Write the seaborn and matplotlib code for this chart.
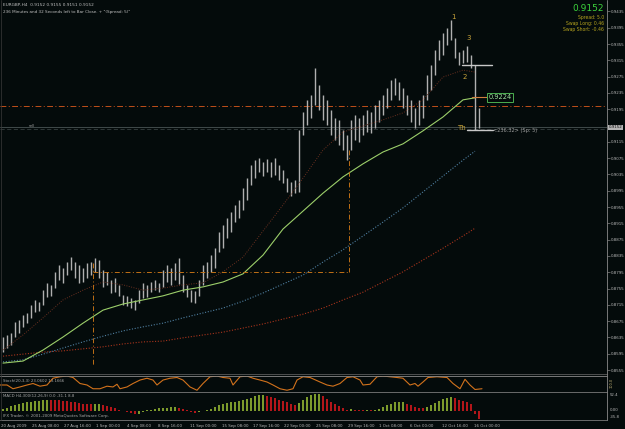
import numpy as np
import pandas as pd
import matplotlib
matplotlib.use("Agg")
import matplotlib.pyplot as plt
import seaborn as sns
from matplotlib.lines import Line2D

# ---- price bars (EURGBP H4), one entry per drawn bar ----
highs = [
    0.8636, 0.8641, 0.8646, 0.8673, 0.8678, 0.8690, 0.8695, 0.8715, 0.8727, 0.8722,
    0.8751, 0.8769, 0.8764, 0.8796, 0.8813, 0.8805, 0.8820, 0.8832, 0.8820, 0.8813,
    0.8805, 0.8818, 0.8820, 0.8830, 0.8825, 0.8800, 0.8796, 0.8776, 0.8781, 0.8764,
    0.8739, 0.8737, 0.8732, 0.8727, 0.8751, 0.8769, 0.8764, 0.8771, 0.8776, 0.8769,
    0.8800, 0.8813, 0.8805, 0.8818, 0.8830, 0.8788, 0.8764, 0.8751, 0.8749, 0.8776,
    0.8813, 0.8820, 0.8837, 0.8854, 0.8894, 0.8911, 0.8928, 0.8943, 0.8960, 0.8972,
    0.9002, 0.9026, 0.9058, 0.9070, 0.9075, 0.9065, 0.9073, 0.9065, 0.9075, 0.9058,
    0.9046, 0.9026, 0.9016, 0.9021, 0.9144, 0.9188, 0.9218, 0.9230, 0.9296, 0.9254,
    0.9230, 0.9218, 0.9193, 0.9173, 0.9169, 0.9144, 0.9132, 0.9169, 0.9181, 0.9173,
    0.9181, 0.9193, 0.9188, 0.9205, 0.9218, 0.9230, 0.9247, 0.9267, 0.9272, 0.9262,
    0.9247, 0.9230, 0.9218, 0.9198, 0.9218, 0.9230, 0.9279, 0.9303, 0.9340, 0.9365,
    0.9382, 0.9394, 0.9414, 0.9370, 0.9335, 0.9340, 0.9350, 0.9328, 0.9303, 0.9198,
]
lows = [
    0.8599, 0.8609, 0.8616, 0.8636, 0.8646, 0.8661, 0.8670, 0.8683, 0.8697, 0.8700,
    0.8715, 0.8734, 0.8737, 0.8756, 0.8776, 0.8769, 0.8788, 0.8800, 0.8781, 0.8769,
    0.8771, 0.8781, 0.8788, 0.8796, 0.8781, 0.8759, 0.8764, 0.8744, 0.8746, 0.8737,
    0.8715, 0.8712, 0.8707, 0.8702, 0.8719, 0.8732, 0.8734, 0.8746, 0.8751, 0.8746,
    0.8759, 0.8771, 0.8764, 0.8776, 0.8766, 0.8746, 0.8734, 0.8722, 0.8719, 0.8737,
    0.8764, 0.8781, 0.8796, 0.8805, 0.8845, 0.8854, 0.8879, 0.8894, 0.8918, 0.8928,
    0.8948, 0.8972, 0.9009, 0.9026, 0.9041, 0.9031, 0.9041, 0.9029, 0.9034, 0.9021,
    0.9014, 0.8992, 0.8982, 0.8989, 0.8992, 0.9132, 0.9156, 0.9173, 0.9205, 0.9193,
    0.9169, 0.9156, 0.9132, 0.9119, 0.9107, 0.9095, 0.9070, 0.9095, 0.9119, 0.9115,
    0.9132, 0.9139, 0.9137, 0.9149, 0.9164, 0.9181, 0.9198, 0.9218, 0.9230, 0.9218,
    0.9198, 0.9181, 0.9164, 0.9149, 0.9156, 0.9173, 0.9218, 0.9242, 0.9279, 0.9316,
    0.9328, 0.9353, 0.9365, 0.9321, 0.9303, 0.9308, 0.9311, 0.9296, 0.9144, 0.9149,
]

# ---- moving averages, read at every fifth bar ----
ma_bars = [0, 5, 10, 15, 20, 25, 30, 35, 40, 45, 50, 55, 60, 65, 70, 75, 80, 85,
           90, 95, 100, 105, 110, 115, 118]
ma_green = [0.8572, 0.8577, 0.8604, 0.8636, 0.8670, 0.8702, 0.8717, 0.8727, 0.8737,
            0.8751, 0.8759, 0.8771, 0.8791, 0.8837, 0.8901, 0.8945, 0.8989, 0.9029,
            0.9061, 0.9090, 0.9110, 0.9142, 0.9176, 0.9218, 0.9223]
ma_blue = [0.8575, 0.8580, 0.8594, 0.8609, 0.8624, 0.8638, 0.8651, 0.8661, 0.8670,
           0.8683, 0.8695, 0.8707, 0.8724, 0.8744, 0.8766, 0.8788, 0.8820, 0.8850,
           0.8884, 0.8918, 0.8953, 0.8992, 0.9031, 0.9070, 0.9092]
ma_red = [0.8589, 0.8594, 0.8599, 0.8602, 0.8607, 0.8612, 0.8619, 0.8624, 0.8626,
          0.8634, 0.8641, 0.8648, 0.8658, 0.8668, 0.8680, 0.8692, 0.8707, 0.8727,
          0.8746, 0.8771, 0.8796, 0.8825, 0.8854, 0.8884, 0.8903]
ma_fast = [0.8604, 0.8641, 0.8683, 0.8727, 0.8751, 0.8771, 0.8764, 0.8751, 0.8756,
           0.8764, 0.8769, 0.8796, 0.8832, 0.8896, 0.8960, 0.9026, 0.9095, 0.9139,
           0.9154, 0.9169, 0.9186, 0.9218, 0.9274, 0.9291, 0.9286]

# ---- oscillator pane ----
osc_bar = [-0.75, 1, 2.5, 4.25, 6, 7.5, 9.25, 11, 12.5, 14.25, 16, 17.5, 19.25, 21,
           22.5, 24.25, 26, 27.5, 28.5, 29.25, 31, 32.5, 34.25, 36, 37.5, 38.5, 40,
           41.75, 43.5, 45, 46.75, 48.5, 50, 51.75, 53.5, 55, 56.75, 57.5, 59.25, 61,
           62.5, 64.25, 66, 67.5, 69.25, 71, 72.5, 73.5, 75, 76.75, 79.25, 81, 82.5,
           84.25, 86, 87.5, 89.25, 90, 91.75, 93.5, 95, 96.75, 98.5, 100, 101.75,
           103, 103.75, 105, 106.25, 108.5, 111, 112.5, 114.25, 115.5, 116.75, 118,
           119.75]
osc_val = [40, 40, 15, 27, 40, 50, 32, 40, 85, 95, 100, 90, 50, 40, 15, 15, 32, 27,
           45, 15, 27, 50, 73, 85, 73, 40, 73, 85, 90, 73, 27, 5, 50, 95, 100, 90,
           85, 40, 95, 100, 85, 73, 60, 40, 15, 5, 15, 73, 95, 90, 60, 40, 32, 50,
           90, 95, 73, 40, 45, 95, 100, 95, 90, 85, 40, 50, 32, 60, 90, 95, 90, 50,
           15, 78, 40, 10, 15]

# ---- MACD histogram, one value per bar ----
macd_hist = [
    7, 10, 17, 21, 24, 28, 31, 32, 35, 36,
    38, 39, 38.5, 38, 37, 35, 34, 31, 30, 28,
    25, 24, 23, 23.5, 24.5, 21, 17.5, 14, 10.5, 5,
    0, -3.5, -7, -10, -9, -4, 2, 5, 7, 9,
    10.5, 12, 14, 14.5, 12, 7, 2, -3.5, -7, -5,
    0, 3.5, 7, 14, 21, 24.5, 28, 30, 31.5, 35,
    38.5, 42, 45.5, 52, 56, 57.5, 54, 49, 44, 38.5,
    35, 30, 24.5, 21, 28, 38.5, 49, 56, 59.5, 60,
    52.5, 42, 31.5, 23, 16, 9, 5, 7, 3.5, 2,
    1.8, 3.5, 2, 3.5, 7, 14, 21, 26, 30, 31.5,
    32, 26, 21, 14, 10.5, 9, 14, 21, 28, 35,
    42, 45.5, 49, 45.5, 40, 35, 30, 24.5, -10, -28,
]

time_labels = ["20 Aug 2009", "25 Aug 08:00", "27 Aug 16:00", "1 Sep 00:00",
               "4 Sep 08:00", "8 Sep 16:00", "11 Sep 00:00", "15 Sep 08:00",
               "17 Sep 16:00", "22 Sep 00:00", "25 Sep 08:00", "29 Sep 16:00",
               "1 Oct 08:00", "6 Oct 00:00", "12 Oct 16:00", "16 Oct 00:00"]

last_price = 0.9152
ma_label_price = 0.9224
level_price = 0.9203

W, H = 625, 429
BG = "#040b0b"

sns.set_theme(style="dark", rc={"axes.facecolor": BG, "figure.facecolor": BG,
                                "axes.grid": False})
plt.rcParams["font.family"] = ["DejaVu Sans"]

fig = plt.figure(figsize=(W / 100, H / 100), dpi=100)


def box(x0, y0, x1, y1):
    return [x0 / W, 1 - y1 / H, (x1 - x0) / W, (y1 - y0) / H]


def ftext(x, y, s, **kw):
    kw.setdefault("va", "center")
    fig.text(x / W, 1 - y / H, s, **kw)


def fline(xs, ys, **kw):
    fig.add_artist(Line2D([x / W for x in xs], [1 - y / H for y in ys],
                          transform=fig.transFigure, **kw))


bars = np.arange(len(highs))
xlim = (-0.75, 151)

# ---------------- main price pane ----------------
ax = fig.add_axes(box(0, 0, 607, 373))
ax.axhline(level_price, color="#c0501a", lw=0.7, ls=(0, (6, 2.5, 1, 2.5)))
ax.axhline(last_price, color="#4a5454", lw=0.6)
ax.axhline(0.9146, color="#353e3e", lw=0.6, ls=(0, (5, 3)))

ax.vlines(bars, lows, highs, color="#b0b0b0", lw=1.0)

sns.lineplot(x=ma_bars, y=ma_red, ax=ax, color="#a8341c", lw=0.8, ls=(0, (1, 1.5)))
sns.lineplot(x=ma_bars, y=ma_blue, ax=ax, color="#4f7fa0", lw=0.8, ls=(0, (1, 1.5)))
sns.lineplot(x=ma_bars, y=ma_fast, ax=ax, color="#6a3020", lw=0.7, ls=(0, (1, 1.5)))
sns.lineplot(x=ma_bars, y=ma_green, ax=ax, color="#9ccf6a", lw=0.8)

# channel / time projection lines
ax.plot([22.5, 86.5], [0.8796, 0.8796], color="#c07016", lw=0.7, ls=(0, (5, 2.5, 1, 2.5)))
ax.plot([22.5, 22.5], [0.8818, 0.8568], color="#c07016", lw=0.7, ls=(0, (5, 2.5, 1, 2.5)))
ax.plot([86.5, 86.5], [0.9095, 0.8796], color="#c07016", lw=0.7, ls=(0, (5, 2.5, 1, 2.5)))

# wave markers
ax.plot([114.75, 122.25], [0.9303, 0.9303], color="#c8c8c8", lw=1.0)
ax.plot([116, 122.5], [0.9144, 0.9144], color="#c8c8c8", lw=1.0)
ax.plot([117.25, 121], [ma_label_price, ma_label_price], color="#d08040", lw=0.8)
for lbl, bx, py in [("1", 112, 0.9422), ("3", 115.8, 0.9370), ("2", 114.8, 0.9275),
                    ("Th", 113.5, 0.9148)]:
    ax.text(bx, py, lbl, color="#c9a43a", fontsize=5, ha="left", va="center")
ax.text(121.4, ma_label_price, f"{ma_label_price:.4f}", color="#9fe09f", fontsize=4.8,
        ha="left", va="center",
        bbox=dict(boxstyle="square,pad=0.2", fc=BG, ec="#4caf50", lw=0.7))
ax.text(122.5, 0.9142, "<236.32> (Sp: 5)", color="#a0a0a0", fontsize=3.6,
        ha="left", va="center")
ax.text(6.5, 0.9155, "sell", color="#a0a0a0", fontsize=2.6, ha="left", va="center")

price_ticks = [round(0.8555 + 0.004 * k, 4) for k in range(23) if k != 15]
ax.set_xlim(*xlim)
ax.set_ylim(0.85477, 0.94630)
ax.yaxis.tick_right()
ax.set_yticks(price_ticks)
ax.set_yticklabels([f"{t:.4f}" for t in price_ticks])
ax.tick_params(axis="y", colors="#808080", labelcolor="#b8b8b8", labelsize=2.9,
               length=2, width=0.5, pad=1)
ax.set_xticks([])
ax.set_xlabel("")
ax.set_ylabel("")
for s in ax.spines.values():
    s.set_visible(False)

# ---------------- oscillator pane ----------------
osc = fig.add_axes(box(0, 375.5, 607, 392))
sns.lineplot(x=osc_bar, y=osc_val, ax=osc, color="#d2721c", lw=0.8)
osc.set_xlim(*xlim)
osc.set_ylim(-6.7, 103.3)
osc.set_xticks([])
osc.set_yticks([])
osc.set_xlabel("")
osc.set_ylabel("")
for s in osc.spines.values():
    s.set_visible(False)

# ---------------- MACD pane ----------------
macd = fig.add_axes(box(0, 392, 607, 420))
hist = pd.DataFrame({"bar": bars, "macd": macd_hist})
hist["rising"] = hist["macd"].diff().fillna(1) >= 0
colors = np.where(hist["rising"], "#7c9a2c", "#b3161a")
macd.bar(hist["bar"], hist["macd"], width=0.72, color=colors, lw=0)
macd.set_xlim(*xlim)
macd.set_ylim(-31.5, 66.5)
macd.set_yticks([])
label_pos = np.arange(len(time_labels)) * 7.875 - 0.5
macd.set_xticks(label_pos)
macd.set_xticklabels(time_labels, ha="left")
macd.tick_params(axis="x", colors="#808080", labelcolor="#b8b8b8", labelsize=2.9,
                 length=2, width=0.5, pad=0.6)
macd.set_xlabel("")
macd.set_ylabel("")
for s in macd.spines.values():
    s.set_visible(False)

# ---------------- frame lines ----------------
fline([0, 607], [373.5, 373.5], color="#5a5a5a", lw=0.6)
fline([0, 607], [375.5, 375.5], color="#8a8a8a", lw=0.6)
fline([0, 607], [392, 392], color="#7a7a7a", lw=0.6)
fline([0, 607], [420, 420], color="#7a7a7a", lw=0.6)
fline([607, 607], [0, 420], color="#8a8a8a", lw=0.6)
fline([1, 1], [0, 420], color="#3a3a3a", lw=0.5)

# ---------------- texts ----------------
ftext(3, 5, "EURGBP,H4  0.9152 0.9155 0.9151 0.9152", fontsize=3.1, color="#c0c0c0")
ftext(3, 12, '236 Minutes and 32 Seconds left to Bar Close. + "(Spread: 5)"',
      fontsize=3.0, color="#c0c0c0")
ftext(604, 8.5, f"{last_price:.4f}", fontsize=6.5, color="#3cd23c", ha="right")
ftext(604, 17, "Spread: 5.0", fontsize=3.3, color="#b4a21e", ha="right")
ftext(604, 23.5, "Swap Long: 0.46", fontsize=3.3, color="#b4a21e", ha="right")
ftext(604, 29.5, "Swap Short: -0.46", fontsize=3.3, color="#b4a21e", ha="right")
ftext(609, 127.5, f"{last_price:.4f}", fontsize=2.9, color="#101010",
      bbox=dict(boxstyle="square,pad=0.15", fc="#b4b4b4", ec="none"))

ftext(3, 381, "Stoch(20,3,3) 23.0602 13.1666", fontsize=2.8, color="#a8a8a8")
ftext(3, 396, "MACD H4-300(12,26,9) 0.0 -31.1 8.8", fontsize=2.8, color="#a8a8a8")
ftext(3, 416.5, "IFX Trader, \u00a9 2001-2009 MetaQuotes Software Corp.", fontsize=2.9,
      color="#a8a8a8")
ftext(612, 383, "100.0", fontsize=2.5, color="#c8b878", rotation=90, ha="center")
ftext(610, 395, "52.4", fontsize=2.8, color="#b8b8b8")
ftext(610, 410, "0.00", fontsize=2.8, color="#b8b8b8")
ftext(610, 417, "-35.8", fontsize=2.8, color="#b8b8b8")

fig.savefig("out.png", dpi=100, facecolor=BG)
